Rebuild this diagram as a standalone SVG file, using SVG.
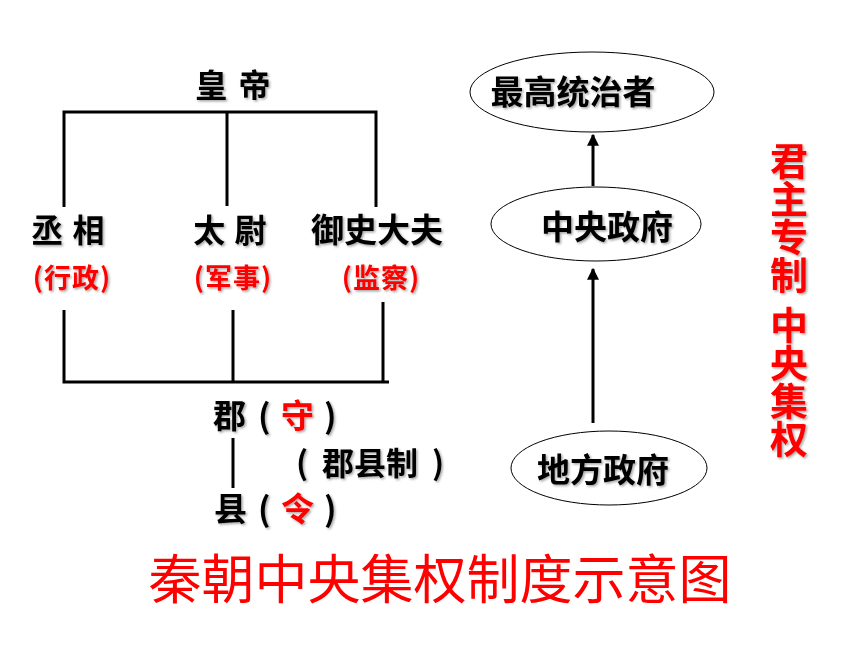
<svg xmlns="http://www.w3.org/2000/svg" width="860" height="645" viewBox="0 0 860 645">
<defs>
<filter id="sh" x="-10%" y="-10%" width="130%" height="140%">
<feDropShadow dx="1.5" dy="1.5" stdDeviation="1" flood-color="#000" flood-opacity="0.35"/>
</filter>
<marker id="ah" viewBox="0 0 10 10" refX="9" refY="5" markerWidth="4" markerHeight="4" orient="auto" markerUnits="strokeWidth">
<path d="M0,0 L10,5 L0,10 z" fill="#000"/>
</marker>
</defs>
<style>
text{font-family:"Noto Sans CJK SC","Noto Sans",sans-serif;}
.b{font-weight:bold;fill:#000;filter:url(#sh);}
.r{fill:#ff0000;}
.rb{font-weight:bold;fill:#ff0000;filter:url(#sh);}
.vt{writing-mode:vertical-rl;}
.ln{stroke:#000;stroke-width:3;fill:none;}
.el{stroke:#000;stroke-width:1;fill:#fff;}
.ar{stroke:#000;stroke-width:3;fill:none;marker-end:url(#ah);}
</style>
<rect width="860" height="645" fill="#fff"/>
<g id="connectors">
<path class="ln" d="M64,207 V112 H376 V207 M227,112 V206"/>
<path class="ln" d="M64,310 V382 H389 M233,310 V382 M383,302 V382"/>
<path class="ln" d="M233,438 V488" stroke-width="2"/>
<line class="ar" x1="593" y1="186" x2="593" y2="135"/>
<line class="ar" x1="593" y1="423" x2="593" y2="269"/>
</g>
<g id="emperor"><text class="b" x="233" y="97" font-size="32" text-anchor="middle" word-spacing="4">皇 帝</text></g>
<g id="chancellor">
<text class="b" x="68" y="242" font-size="32" text-anchor="middle" word-spacing="2">丞 相</text>
<text class="rb" x="72" y="288" font-size="27" text-anchor="middle" letter-spacing="1">(行政)</text>
</g>
<g id="taiwei">
<text class="b" x="230" y="242" font-size="32" text-anchor="middle" word-spacing="2">太 尉</text>
<text class="rb" x="233" y="288" font-size="27" text-anchor="middle" letter-spacing="1">(军事)</text>
</g>
<g id="yushi">
<text class="b" x="377" y="242" font-size="33" text-anchor="middle">御史大夫</text>
<text class="rb" x="381" y="288" font-size="27" text-anchor="middle" letter-spacing="1">(监察)</text>
</g>
<g id="jun">
<text class="b" font-size="33" y="428"><tspan x="213">郡</tspan><tspan x="258">(</tspan><tspan x="281" class="r">守</tspan><tspan x="324">)</tspan></text>
</g>
<g id="junxianzhi">
<text class="b" font-size="32" y="475"><tspan x="296">(</tspan><tspan x="322">郡县制</tspan><tspan x="432">)</tspan></text>
</g>
<g id="xian">
<text class="b" font-size="33" y="521"><tspan x="214">县</tspan><tspan x="258">(</tspan><tspan x="281" class="r">令</tspan><tspan x="324">)</tspan></text>
</g>
<g id="supreme">
<ellipse class="el" cx="592" cy="92" rx="122" ry="40"/>
<text class="b" x="573" y="104" font-size="33" text-anchor="middle">最高统治者</text>
</g>
<g id="central">
<ellipse class="el" cx="596" cy="224" rx="105" ry="37"/>
<text class="b" x="607" y="239" font-size="33" text-anchor="middle">中央政府</text>
</g>
<g id="local">
<ellipse class="el" cx="609" cy="468" rx="98" ry="37"/>
<text class="b" x="603" y="482" font-size="33" text-anchor="middle">地方政府</text>
</g>
<g id="side-label">
<text class="rb vt" x="789" y="142" font-size="38">君主专制</text>
<text class="rb vt" x="789" y="306" font-size="38">中央集权</text>
</g>
<g id="title"><text x="440" y="599" font-size="53" text-anchor="middle" fill="#ff0000">秦朝中央集权制度示意图</text></g>
</svg>
